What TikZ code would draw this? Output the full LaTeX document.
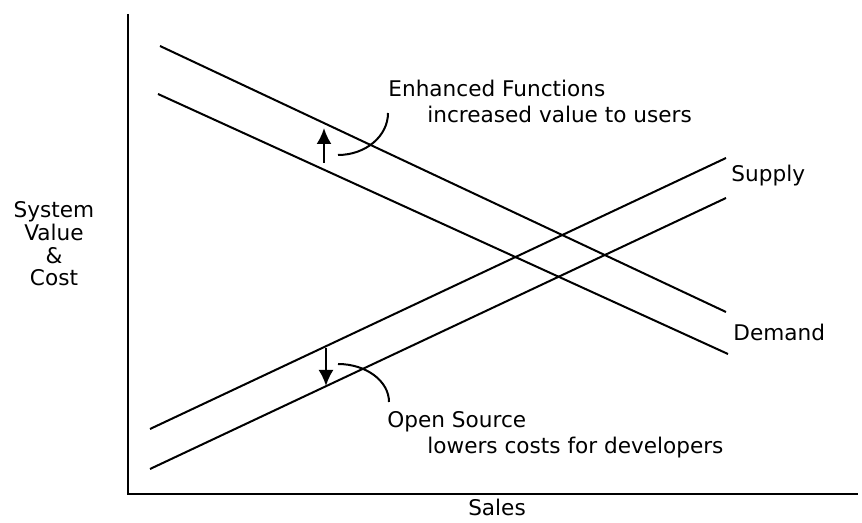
\documentclass[tikz,border=0pt]{standalone}
\usepackage{fontspec}
\setmainfont{DejaVu Sans}
\usetikzlibrary{arrows.meta}

\begin{document}
\begin{tikzpicture}
    [x=0.5pt, y=-0.5pt,
     curve/.style = {line width=1pt},
     axis/.style = {line width=1.3pt},
     shiftarrow/.style = {line width=1.1pt, -{Latex[length=8pt,width=7.5pt]}},
     lbl/.style = {anchor=base west, inner sep=0pt, font=\fontsize{10.8}{11.4}\selectfont}]

    \useasboundingbox (0,0) rectangle (862,523);

    % axes
    \coordinate (ytop) at (128,14);
    \coordinate (o) at (128,494);
    \coordinate (xend) at (858,494);
    \draw[axis] (ytop) -- (o) -- (xend);

    % demand, before and after
    \coordinate (dnew1) at (160,46);
    \coordinate (dnew2) at (726,312);
    \coordinate (dold1) at (158,94);
    \coordinate (dold2) at (728,354);
    % supply, before and after
    \coordinate (sold1) at (150,429);
    \coordinate (sold2) at (726,158);
    \coordinate (snew1) at (150,469);
    \coordinate (snew2) at (726,198);

    \draw[curve] (dnew1) -- (dnew2);
    \draw[curve] (dold1) -- (dold2);
    \draw[curve] (sold1) -- (sold2);
    \draw[curve] (snew1) -- (snew2);

    \node[lbl] (supply) at (731,182) {Supply};
    \node[lbl] (demand) at (733,341) {Demand};
    \node[lbl, anchor=base] (sales) at (497,516) {Sales};
    \node[lbl, anchor=north, align=center] (yaxis) at (54,201) {System\\Value\\\&\\Cost};

    % shift of demand
    \coordinate (up1) at (324,163);
    \coordinate (up2) at (324,128);
    \draw[shiftarrow] (up1) -- (up2);
    \coordinate (upleader) at (388,113);
    \draw[curve] (upleader) arc[start angle=0, end angle=90, x radius=50, y radius=42];
    \node[lbl] (enh) at (388,97) {Enhanced Functions};
    \node[lbl] (incr) at (427,123) {increased value to users};

    % shift of supply
    \coordinate (down1) at (326,348);
    \coordinate (down2) at (326,386);
    \draw[shiftarrow] (down1) -- (down2);
    \coordinate (downleader) at (338,364);
    \draw[curve] (downleader) arc[start angle=-90, end angle=0, x radius=51, y radius=38];
    \node[lbl] (open) at (387,428) {Open Source};
    \node[lbl] (lower) at (427,453) {lowers costs for developers};
\end{tikzpicture}
\end{document}
